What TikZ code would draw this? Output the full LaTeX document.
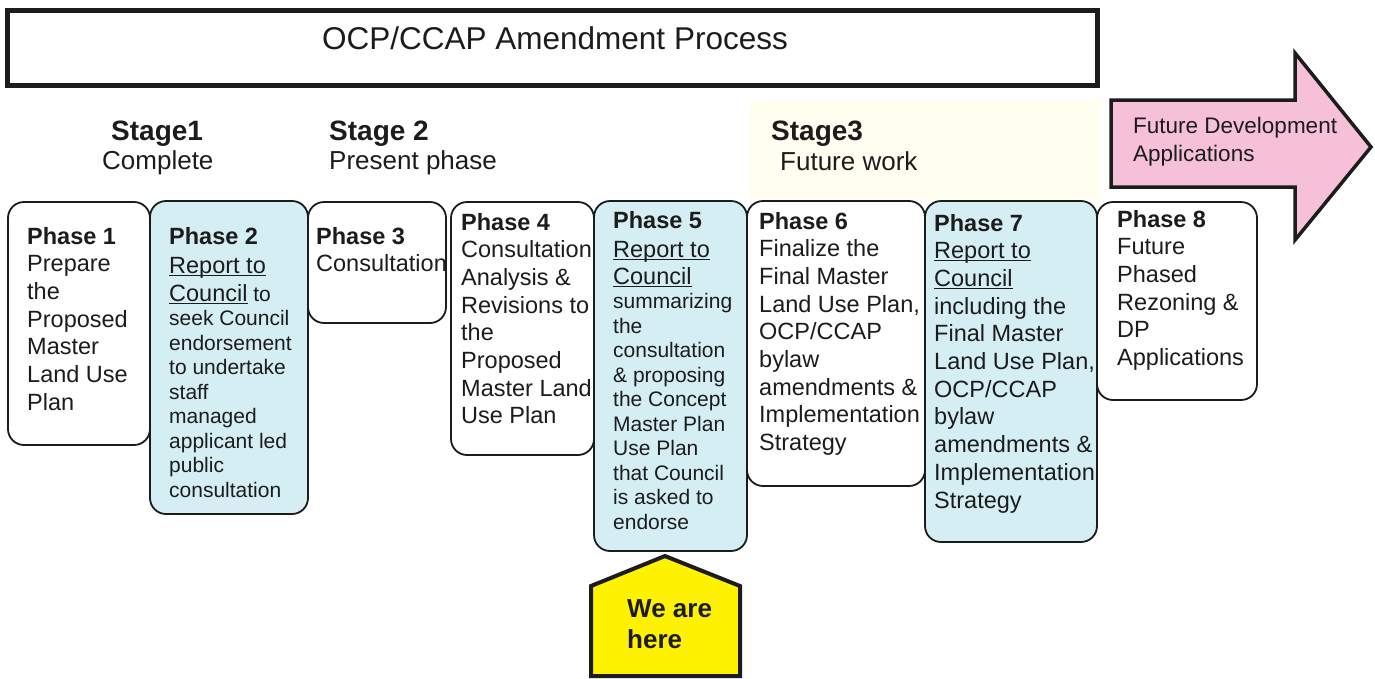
\documentclass[tikz,border=0pt]{standalone}
\usepackage{fontspec}
\setmainfont{Liberation Sans}
\definecolor{boxblue}{RGB}{213,238,244}
\definecolor{arrowpink}{RGB}{245,192,216}
\definecolor{signyellow}{RGB}{255,242,0}
\definecolor{ink}{RGB}{28,28,28}
\definecolor{glow}{RGB}{255,254,241}
\newcommand\myul[1]{\setbox0\hbox{#1}\rlap{\rule[-2.6pt]{\wd0}{1.1pt}}\box0}
\newcommand\lns[1]{\begin{tabular}[t]{@{}l@{}}#1\end{tabular}}
\newcommand\fbody{\fontsize{23.5}{27.7}\selectfont}
\newcommand\fsmall{\fontsize{21}{24.5}\selectfont}
\tikzset{
  phasebox/.style={draw=ink, line width=1.8pt, rounded corners=16pt},
  whitebox/.style={phasebox, fill=white},
  bluebox/.style={phasebox, fill=boxblue},
  txt/.style={anchor=base west, inner sep=0pt, text=ink},
  stagehead/.style={txt, font=\fontsize{28}{32}\selectfont\bfseries},
  stagesub/.style={txt, font=\fontsize{26}{30}\selectfont},
}
\begin{document}
\begin{tikzpicture}[x=1pt,y=-1pt]
\useasboundingbox (0,0) rectangle (1375,678);
\fill[white] (0,0) rectangle (1375,678);
% faint highlight behind Stage 3
\fill[glow] (750,100) rectangle (1100,200);
% title box
\draw[draw=ink, line width=5pt] (7.5,10.5) rectangle (1097.5,85.5);
\node[anchor=base, inner sep=0pt, text=ink, font=\fontsize{31.5}{36}\selectfont] (title) at (555,49) {OCP/CCAP Amendment Process};
% stages
\node[stagehead] (s1) at (111,140) {Stage1};
\node[stagesub] (s1b) at (102,169) {Complete};
\node[stagehead] (s2) at (329,140) {Stage 2};
\node[stagesub] (s2b) at (329,169) {Present phase};
\node[stagehead] (s3) at (771,140) {Stage3};
\node[stagesub] (s3b) at (780,170) {Future work};
% future arrow
\draw[draw=ink, line width=3.5pt, line join=miter, fill=arrowpink]
  (1111,100) -- (1295,100) -- (1295,53) -- (1371,147) -- (1295,240) -- (1295,187) -- (1111,187) -- cycle;
\node[txt, font=\fontsize{22.5}{28}\selectfont] (fut) at (1133,133) {\lns{Future Development\\Applications}};
% phase boxes
\draw[whitebox] (8,202) rectangle (150,445);
\draw[bluebox] (150,201) rectangle (308,514);
\draw[whitebox] (308,202) rectangle (446,323);
\draw[whitebox] (451,202) rectangle (594,455);
\draw[bluebox] (594,201) rectangle (747,551);
\draw[whitebox] (747,201) rectangle (925,486);
\draw[bluebox] (925,201) rectangle (1097,542);
\draw[whitebox] (1097,202) rectangle (1257,400);
% phase texts
\node[txt, font=\fbody] (t1) at (27,244) {\lns{\textbf{Phase 1}\\Prepare\\the\\Proposed\\Master\\Land Use\\Plan}};
\node[txt, font=\fsmall] (t2) at (169,244) {\lns{\fbody\textbf{Phase 2}\\[4.5pt]\fbody\myul{Report to}\\[3.5pt]\fbody\myul{Council}\fsmall{} to\\seek Council\\endorsement\\to undertake\\staff\\managed\\applicant led\\public\\consultation}};
\node[txt, font=\fbody] (t3) at (316,244) {\lns{\textbf{Phase 3}\\Consultation}};
\node[txt, font=\fbody] (t4) at (461,230) {\lns{\textbf{Phase 4}\\Consultation\\Analysis \&\\Revisions to\\the\\Proposed\\Master Land\\Use Plan}};
\node[txt, font=\fsmall] (t5) at (613,228) {\lns{\fbody\textbf{Phase 5}\\[4.5pt]\fbody\myul{Report to}\\[2.5pt]\fbody\myul{Council}\\summarizing\\the\\consultation\\\& proposing\\the Concept\\Master Plan\\Use Plan\\that Council\\is asked to\\endorse}};
\node[txt, font=\fbody] (t6) at (759,229) {\lns{\textbf{Phase 6}\\Finalize the\\Final Master\\Land Use Plan,\\OCP/CCAP\\bylaw\\amendments \&\\Implementation\\Strategy}};
\node[txt, font=\fbody] (t7) at (934,231) {\lns{\textbf{Phase 7}\\\myul{Report to}\\\myul{Council}\\including the\\Final Master\\Land Use Plan,\\OCP/CCAP\\bylaw\\amendments \&\\Implementation\\Strategy}};
\node[txt, font=\fbody] (t8) at (1117,227) {\lns{\textbf{Phase 8}\\Future\\Phased\\Rezoning \&\\DP\\Applications}};
% we are here sign
\draw[draw=ink, line width=4pt, line join=miter, fill=signyellow]
  (665,556) -- (740,586) -- (740,676) -- (591,676) -- (591,586) -- cycle;
\node[txt, font=\fontsize{26}{31}\selectfont\bfseries] (here) at (627,617) {\lns{We are\\here}};
\end{tikzpicture}
\end{document}
